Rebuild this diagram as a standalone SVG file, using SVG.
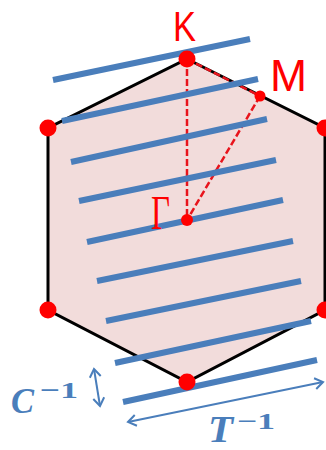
<svg xmlns="http://www.w3.org/2000/svg" width="326" height="450" viewBox="0 0 326 450">
<defs>
<style>
.hex{fill:#f2dcdb;stroke:#000;stroke-width:3;stroke-linejoin:miter}
.band{stroke:#4a7ebb;stroke-width:6;stroke-linecap:butt}
.dash{stroke:#e8141c;stroke-width:2.5;stroke-dasharray:7 3;fill:none}
.dot{fill:#f00}
.arr{stroke:#4a7ebb;stroke-width:2;fill:none}
.lbl{fill:#f00;font-family:"Liberation Sans",Arial,sans-serif}
.math{fill:#4a7ebb;font-family:"Liberation Serif","Times New Roman",serif;font-weight:bold}
</style>
<marker id="chev" viewBox="-10 -7 12 14" refX="0" refY="0" markerWidth="12" markerHeight="14" markerUnits="userSpaceOnUse" orient="auto-start-reverse">
<path d="M-8,-5.5 L0,0 L-8,5.5" fill="none" stroke="#4a7ebb" stroke-width="2"/>
</marker>
</defs>
<g id="hexagon">
<polygon class="hex" points="187,59 325,128 325,310 187,382 48,310 48,128"/>
</g>
<g id="connectors">
<line class="dash" x1="187" y1="59" x2="260" y2="96"/>
<line class="dash" x1="187" y1="59" x2="187" y2="220"/>
<line class="dash" x1="260" y1="96" x2="187" y2="220"/>
</g>
<g id="bands">
<line class="band" x1="53" y1="80" x2="250" y2="39"/>
<line class="band" x1="62" y1="121" x2="258" y2="79"/>
<line class="band" x1="71" y1="162" x2="267" y2="119"/>
<line class="band" x1="79" y1="201" x2="276" y2="160"/>
<line class="band" x1="87" y1="242" x2="283" y2="200"/>
<line class="band" x1="97" y1="281" x2="293" y2="241"/>
<line class="band" x1="106" y1="321" x2="301" y2="281"/>
<line class="band" x1="115" y1="363" x2="311" y2="321"/>
<line class="band" x1="123" y1="402" x2="317" y2="360"/>
</g>
<g id="arrows">
<line class="arr" x1="94" y1="369" x2="100" y2="406" marker-start="url(#chev)" marker-end="url(#chev)"/>
<line class="arr" x1="128" y1="422" x2="323" y2="382" marker-start="url(#chev)" marker-end="url(#chev)"/>
</g>
<g id="vertices">
<circle class="dot" cx="187" cy="59" r="8.5"/>
<circle class="dot" cx="48" cy="128" r="8.5"/>
<circle class="dot" cx="325" cy="128" r="8.5"/>
<circle class="dot" cx="48" cy="310" r="8.5"/>
<circle class="dot" cx="325" cy="310" r="8.5"/>
<circle class="dot" cx="187" cy="382" r="8.5"/>
</g>
<g id="node-K">
<text class="lbl" x="173" y="41" font-size="43" textLength="23" lengthAdjust="spacingAndGlyphs">K</text>
</g>
<g id="node-M">
<circle class="dot" cx="260" cy="96" r="5.5"/>
<text class="lbl" x="270" y="91" font-size="44" textLength="37" lengthAdjust="spacingAndGlyphs">M</text>
</g>
<g id="node-Gamma">
<circle class="dot" cx="187" cy="220" r="6"/>
<text class="lbl" x="151" y="229" font-size="48" style="font-family:'Liberation Serif','Times New Roman',serif" textLength="19" lengthAdjust="spacingAndGlyphs">Γ</text>
</g>
<g id="label-C">
<text class="math" x="11" y="413" font-size="36" font-style="italic" textLength="23" lengthAdjust="spacingAndGlyphs">C</text>
<text class="math" x="40" y="398" font-size="24" textLength="38" lengthAdjust="spacingAndGlyphs">−1</text>
</g>
<g id="label-T">
<text class="math" x="208" y="442" font-size="38" font-style="italic" textLength="25" lengthAdjust="spacingAndGlyphs">T</text>
<text class="math" x="237" y="429" font-size="23" textLength="38" lengthAdjust="spacingAndGlyphs">−1</text>
</g>
</svg>
